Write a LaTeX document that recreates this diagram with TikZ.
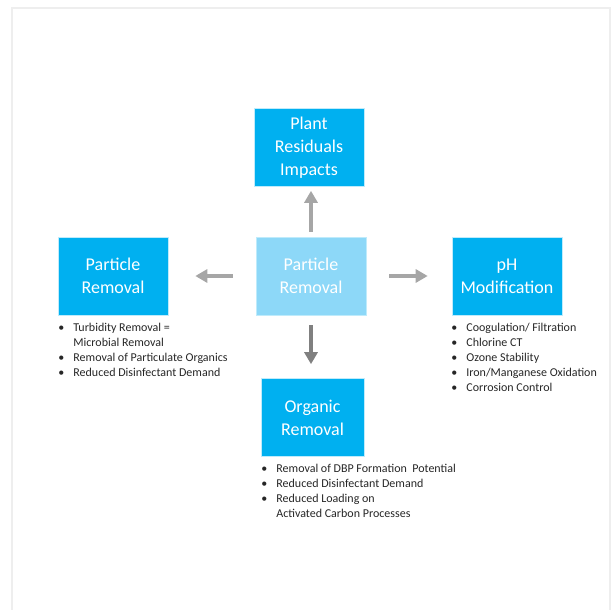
\documentclass[tikz,border=0pt]{standalone}
\usepackage{fontspec}
\setmainfont{Carlito}
\usepackage{xcolor}
\usetikzlibrary{arrows.meta,positioning}
\definecolor{boxblue}{HTML}{00B0F0}
\definecolor{paleblue}{HTML}{8DD8F8}
\definecolor{arrowgray}{HTML}{A6A6A6}
\definecolor{darkgray}{HTML}{808080}
\definecolor{framegray}{HTML}{EEEEEE}
\definecolor{listgray}{HTML}{262626}

\newcommand{\itemlist}[1]{\begin{tabular}{@{}l@{\hspace{9pt}}l@{}}#1\end{tabular}}

\begin{document}
\begin{tikzpicture}[x=1pt, y=-1pt, thick,
    main/.style={rectangle, draw=white!75!boxblue, line width=0.6pt, fill=boxblue, text=white,
      minimum width=110pt, minimum height=78pt, inner sep=0pt, align=center,
      font=\fontsize{18}{23}\selectfont},
    flow/.style={draw=arrowgray, line width=4.5pt, -{Triangle[length=12pt, width=13pt]}},
    notes/.style={anchor=north west, inner sep=0pt, text=listgray,
      font=\fontsize{12}{15}\selectfont}]
        \useasboundingbox (0,0) rectangle (613,610);
        \draw[framegray, line width=2pt] (11.5,610) -- (11.5,8) -- (609.5,8) -- (609.5,610);
        % boxes
        \node[main, fill=paleblue] (center) at (311,276) {Particle\\Removal};
        \node[main] (plant) at (309,147.5) {Plant\\Residuals\\Impacts};
        \node[main] (particle) at (113,276) {Particle\\Removal};
        \node[main] (ph) at (507,276) {pH\\Modification};
        \node[main, minimum width=103pt] (organic) at (312.5,417.5) {Organic\\Removal};
        % arrows
        \draw[flow, shorten <=5pt, shorten >=4pt] (center) -- (center |- plant.south);
        \draw[flow, shorten <=23pt, shorten >=27pt] (center) -- (particle);
        \draw[flow, shorten <=23pt, shorten >=24pt] (center) -- (ph);
        \draw[flow, draw=darkgray, shorten <=10pt, shorten >=14pt] (center) -- (center |- organic.north);
        % bullet lists
        \node[notes] (particlenotes) at (58,320.5) {\itemlist{
            \textbullet & Turbidity Removal =\\
                        & Microbial Removal\\
            \textbullet & Removal of Particulate Organics\\
            \textbullet & Reduced Disinfectant Demand}};
        \node[notes] (phnotes) at (451,320.5) {\itemlist{
            \textbullet & Coogulation/ Filtration\\
            \textbullet & Chlorine CT\\
            \textbullet & Ozone Stability\\
            \textbullet & Iron/Manganese Oxidation\\
            \textbullet & Corrosion Control}};
        \node[notes] (organicnotes) at (261,461.5) {\itemlist{
            \textbullet & Removal of DBP Formation\ \ Potential\\
            \textbullet & Reduced Disinfectant Demand\\
            \textbullet & Reduced Loading on\\
                        & Activated Carbon Processes}};
    \end{tikzpicture}
\end{document}
